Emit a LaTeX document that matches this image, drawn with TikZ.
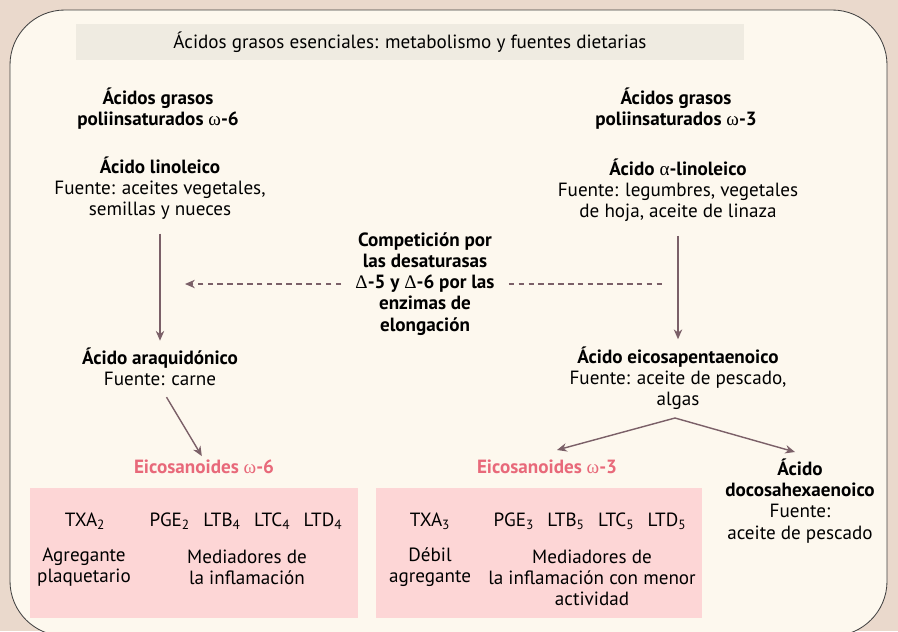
\documentclass[tikz,border=0pt]{standalone}
\usepackage{fontspec}
\setmainfont{PT Sans}
\newfontfamily\griego{Liberation Serif}
\usepackage{tikz}
\usetikzlibrary{arrows.meta}
\definecolor{fondo}{HTML}{EAD9CC}
\definecolor{crema}{HTML}{FDF8EE}
\definecolor{barra}{HTML}{EFEBE1}
\definecolor{rosa}{HTML}{FDD6D6}
\definecolor{rojo}{HTML}{E8697A}
\definecolor{malva}{HTML}{7B6068}
\newcommand{\hueco}{\hspace{0.7em}}
\newcommand{\om}{{\griego\mdseries ω}}
\newcommand{\del}{{\griego\mdseries Δ}}

\begin{document}
\begin{tikzpicture}[x=0.025cm,y=-0.025cm,
  txt/.style={align=center,inner sep=0pt,font=\fontsize{13.6}{15}\selectfont},
  neg/.style={txt,font=\fontsize{13.6}{15}\selectfont\bfseries},
  eico/.style={neg,text=rojo},
  caja/.style={fill=rosa,inner sep=0pt,minimum height=3.25cm},
  flecha/.style={draw=malva,line width=1pt,-{Stealth[length=7pt,width=6pt]}}]
\useasboundingbox (0,0) rectangle (898,631);
\clip (0,0) rectangle (898,631);
\fill[fondo] (0,0) rectangle (898,631);
\draw[fill=crema,draw=black!75,line width=0.6pt,rounded corners=39pt] (10,10) rectangle (887,636);
\node[fill=barra,minimum width=16.7cm,minimum height=0.9cm,txt] (titulo) at (410,42) {Ácidos grasos esenciales: metabolismo y fuentes dietarias};

% cajas de eicosanoides
\node[caja,minimum width=8.2cm] (caja6) at (194,553) {};
\node[caja,minimum width=8.15cm] (caja3) at (539,553) {};

% omega 6
\node[neg] (pufa6) at (158,109) {Ácidos grasos\\poliinsaturados \om-6};
\node[txt] (lino) at (160,188) {\textbf{Ácido linoleico}\\Fuente: aceites vegetales,\\semillas y nueces};
\node[txt] (araq) at (160,367) {\textbf{Ácido araquidónico}\\Fuente: carne};
\node[eico] (eico6) at (204,467) {Eicosanoides \om-6};
\node[txt] (txa2) at (85,521) {TXA\textsubscript{2}};
\node[txt] (pge2) at (246,521) {PGE\textsubscript{2}\hueco LTB\textsubscript{4}\hueco LTC\textsubscript{4}\hueco LTD\textsubscript{4}};
\node[txt] (agr6) at (84,567) {Agregante\\plaquetario};
\node[txt] (med6) at (247,567) {Mediadores de\\la inflamación};

% omega 3
\node[neg] (pufa3) at (676,109) {Ácidos grasos\\poliinsaturados \om-3};
\node[txt] (alino) at (678,190) {\textbf{Ácido {\griego\mdseries α}-linoleico}\\Fuente: legumbres, vegetales\\de hoja, aceite de linaza};
\node[txt] (epa) at (678,378) {\textbf{Ácido eicosapentaenoico}\\Fuente: aceite de pescado,\\algas};
\node[eico] (eico3) at (547,467) {Eicosanoides \om-3};
\node[txt] (dha) at (800,501) {\textbf{Ácido}\\\textbf{docosahexaenoico}\\Fuente:\\aceite de pescado};
\node[txt] (txa3) at (430,521) {TXA\textsubscript{3}};
\node[txt] (pge3) at (590,521) {PGE\textsubscript{3}\hueco LTB\textsubscript{5}\hueco LTC\textsubscript{5}\hueco LTD\textsubscript{5}};
\node[txt] (agr3) at (430,567) {Débil\\agregante};
\node[txt] (med3) at (592,578) {Mediadores de\\la inflamación con menor\\actividad};

% competencia
\node[neg] (comp) at (425,284) {Competición por\\las desaturasas\\\del-5 y \del-6 por las\\enzimas de\\elongación};
\coordinate (izq) at (185,284);
\coordinate (der) at (665,284);
\coordinate (rama) at (675,418);
\coordinate (p3) at (557,450);
\coordinate (pd) at (795,452);

\draw[flecha,shorten <=10pt,shorten >=5pt] (lino.south) -- (araq.north);
\draw[flecha,shorten <=10pt,shorten >=5pt] (alino.south) -- (epa.north);
\draw[flecha,dash pattern=on 4pt off 3pt,shorten <=10pt] (comp.west) -- (izq);
\draw[malva,line width=1pt,dash pattern=on 4pt off 3pt,shorten <=10pt] (comp.east) -- (der);
\draw[flecha,shorten <=9pt,shorten >=3pt] (araq.south) -- (eico6.north);
\draw[flecha] (rama) -- (p3);
\draw[flecha] (rama) -- (pd);
\end{tikzpicture}
\end{document}
